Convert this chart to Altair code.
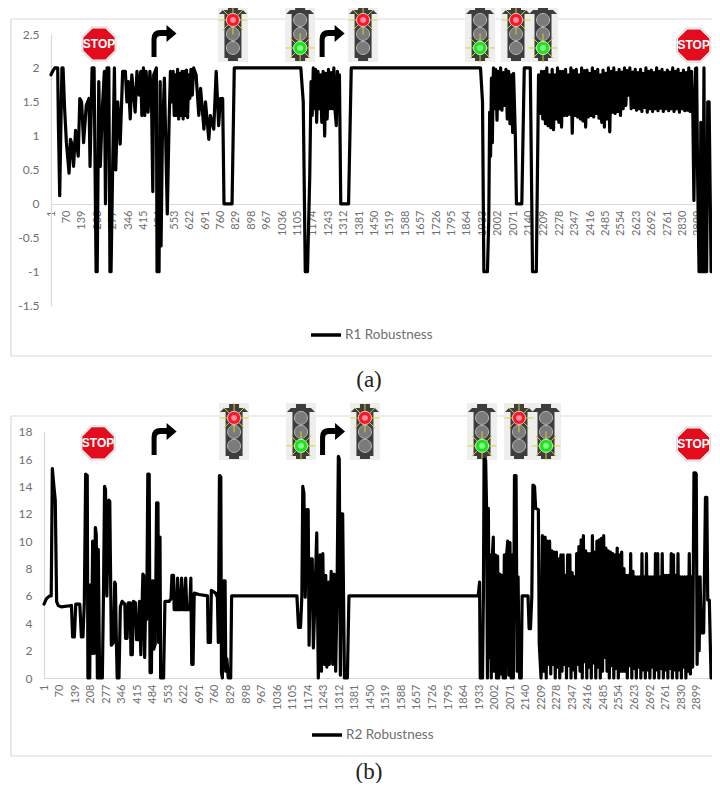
import math
import altair as alt
import pandas as pd

# ---- tick labels -----------------------------------------------------------
x_ticks = list(range(1, 2900, 69))
r1_y_ticks = [-1.5, -1, -0.5, 0, 0.5, 1, 1.5, 2, 2.5]
r2_y_ticks = [0, 2, 4, 6, 8, 10, 12, 14, 16, 18]

# ---- R1 Robustness (sample index, value) -------------------------------------
r1_start = [
    (1,1.9),(8,1.95),(18,2),(31,2),(34,1.2),(40,0.12),(44,0.9),(50,2),(55,2),(62,1.4),(70,0.9),(82,0.45),
    (88,0.95),(93,0.9),(102,0.55),(111,1.08),(123,0.7),(130,1.55),(138,1.5),(147,0.9),(159,1.45),(171,1.55),
    (176,0.55),(185,2),(194,2),(203,-1),(208,-1),(215,1.8),(222,0.55),(231,1.4),(240,1.95),(245,0),(252,2),
    (260,2),(265,-1),(270,-1),(278,0.7),(285,2),(291,0.5),(300,1.5),(311,0.88),(322,1.95),(334,1.95),
    (341,1.5),(348,1.8),(356,1.25),(363,1.9),(378,1.35),(386,1.95),(396,1.6),(403,1.95),(408,1.3),(415,2),
    (421,1.3),(427,1.95),(436,1.35),(444,1.95),(451,1.6),(457,0.18),(461,1.9),(473,2),(476,-1),(485,-1),
    (490,1.8),(494,-0.62),(500,1),(509,1.85),(522,-0.15),(530,1.2),(536,1.95),(542,1.5),(548,1.95),
    (553,1.3),(558,1.9),(563,1.3),(568,1.98),(573,1.25),(578,1.92),(583,1.3),(588,1.95),(593,1.25),
    (598,1.95),(603,1.3),(608,1.97),(613,1.27),(618,1.9),(623,1.55),(628,1.98),(634,1.6),(640,2),(651,1.9),
    (656,1.65),(663,1.3),(671,1.7),(686,1.1),(693,1.5),(708,0.95),(715,1.3),(730,1.1),(741,1.95),(752,1.15),
    (760,1.55),(770,1.55),(776,0),(812,0),(822,2),(1120,2),(1131,1.5),(1140,-1),(1150,-1),(1160,0.4),
]
r1_middle = [
    (1166,1.8),(1171,1.3),(1176,2),(1181,1.4),(1186,1.98),(1191,1.2),(1197,1.95),(1203,1.4),(1208,1.9),
    (1214,1.2),(1220,1.95),(1227,1),(1232,1.92),(1238,1.25),(1244,1.98),(1250,1.4),(1256,1.93),(1262,1.4),
    (1268,2),(1274,1.35),(1279,1.15),(1284,1.95),(1289,1.4),(1293,1.9),(1299,0),(1334,0),(1346,2),(1925,2),
    (1934,1.5),(1940,-1),(1956,-1),(1962,-0.25),(1966,1.35),(1970,0.7),(1974,1.85),(1978,0.9),(1983,2),
    (1988,1.4),(1993,1.98),(1999,1.23),(2004,1.95),(2010,1.4),(2015,2),(2021,1.38),(2027,1.93),(2033,1.45),
    (2039,1.98),(2045,1.25),(2051,1.95),(2057,1.18),(2063,1.9),(2069,1.05),(2073,1.92),(2081,1),(2086,0),
    (2110,0),(2121,2),(2148,2),(2158,-1),(2175,-1),(2182,1),
]
r1_dense = [
    (2185,1.9),(2192,1.33),(2198,1.95),(2204,1.25),(2210,1.95),(2216,1.18),(2222,2),(2228,1.15),(2234,1.9),
    (2240,1.12),(2246,1.98),(2252,1.09),(2258,1.9),(2264,1.25),(2270,2),(2276,1.2),(2282,1.95),(2288,1.13),
    (2294,1.95),(2300,1.3),(2306,1.98),(2312,1.3),(2318,1.9),(2324,1.32),(2330,2),(2336,1.04),(2342,1.96),
    (2348,1.3),(2354,1.98),(2360,1.28),(2366,1.9),(2372,1.25),(2378,2),(2384,1.22),(2390,1.96),(2396,1.13),
    (2402,1.97),(2408,1.28),(2414,1.92),(2420,1.3),(2426,2),(2432,1.28),(2438,1.95),(2444,1.33),(2450,1.98),
    (2456,1.26),(2462,1.9),(2468,1.2),(2474,1.97),(2480,1.13),(2486,1.92),(2492,1.25),(2498,2),(2504,1.06),
    (2510,1.95),(2516,1.35),(2522,2),(2528,1.33),(2534,1.93),(2540,1.36),(2546,1.98),(2552,1.3),(2558,1.94),
    (2564,1.4),(2570,2),(2576,1.45),(2582,1.96),(2588,1.6),(2594,2),(2600,1.4),(2606,1.94),(2612,1.42),
    (2618,1.98),(2624,1.38),(2630,1.93),(2636,1.4),(2642,1.98),(2648,1.36),(2654,1.92),(2660,1.42),(2666,2),
    (2672,1.35),(2678,1.95),(2684,1.4),(2690,1.97),(2696,1.36),(2702,1.93),(2708,1.4),(2714,2),(2720,1.37),
    (2726,1.95),(2732,1.41),(2738,1.98),(2744,1.36),(2750,1.93),(2756,1.4),(2762,1.97),(2768,1.37),(2774,1.94),
    (2780,1.4),(2786,2),(2792,1.36),(2798,1.95),(2804,1.4),(2810,1.98),(2816,1.35),(2822,1.92),(2828,1.4),
    (2834,1.97),(2840,1.37),(2846,1.93),(2852,1.38),(2858,2),(2864,1.36),(2870,1.95),(2876,1.36),(2881,0.05),
    (2888,1.99),(2893,2),(2898,0.3),(2904,-1),(2908,-1),(2912,1.2),(2917,-1),(2921,-1),(2926,2),(2930,-1),
    (2938,-1),(2943,1.5),(2949,1.5),(2958,-1),
]

# ---- R2 Robustness (sample index, value) -------------------------------------
r2_start = [
    (1,5.4),(12,5.8),(26,6),(33,6),(38,15.3),(45,14),(51,13),(57,5.6),(64,5.3),(78,5.2),(123,5.3),(128,3),
    (136,3),(142,5.4),(160,5.4),(167,3),(174,3),(180,5.5),(186,14.9),(193,14.8),(196,0),(204,0),(207,6.8),
    (212,1.8),(217,10),(223,1.8),(229,11),(233,10.5),(238,0),(242,9.4),(248,0),(260,0),(265,6),(270,14),
    (274,13.8),(280,6),(289,13),(293,12.9),(300,2.4),(310,2.6),(315,7),(318,6.9),(322,3),(326,0),(334,0),
    (340,5.2),(348,5.6),(360,5.4),(363,2.9),(370,2.9),(375,5.5),(384,5.5),(387,1.7),(393,1.7),(398,5.6),
    (407,5.5),(412,2.8),(419,2.8),(425,5.6),(431,1.7),(440,7.6),(444,7.5),(448,1.5),(453,6.1),(457,4.3),
    (462,14.9),(468,14.9),(472,0.4),(478,0.4),(481,7.1),(485,7.1),(488,2.1),(495,2.5),(501,12.8),(507,12.8),
    (510,2.6),(516,10.3),(519,0),(532,0),(538,5.6),(557,5.6),(565,5.8),(569,7.5),(576,7.5),(579,5),(589,5),
    (594,7.3),(599,5),(607,5),(612,7.3),(618,5),(625,5),(630,7.3),(635,5),(648,5),(653,7.3),(657,1),(663,1),
    (668,6.2),(690,6.1),(727,6),(730,2.6),(740,2.6),(744,6.4),(763,6.2),(771,5.9),(775,2.6),(780,14.8),
    (786,14.7),(789,0.4),(793,0),(799,7.1),(805,7.1),(808,0.5),(813,1.4),(819,0),(830,0),(834,6),(1124,6),
    (1131,3.7),(1140,3.7),(1146,6),(1150,14),(1155,13.5),(1161,5.9),(1168,12.3),(1174,12.3),(1178,2.4),
    (1184,8.7),(1192,8.7),(1197,2.2),(1202,4.7),(1212,10.6),(1219,0),(1227,9),(1233,0.5),(1239,9.1),(1246,1),
    (1252,7.5),(1257,0.8),(1264,7),(1268,1),(1276,7.8),(1283,1),(1289,7.6),(1296,0.5),(1302,6),(1308,16.2),
    (1312,16),(1317,0.2),(1323,12),(1327,12),(1335,0),(1348,0),(1355,6),(1929,6),(1935,7),(1938,0),(1948,0),
]
r2_middle = [
    (1952,6),(1955,16),(1962,15.9),(1966,12.5),(1970,0),(1974,12.4),(1978,1.5),(1982,9),(1987,0),(1992,9),
    (1996,10.3),(2000,0.5),(2005,9),(2010,0),(2015,8.9),(2020,0),(2025,7.6),(2030,0.3),(2035,7.5),(2040,0),
    (2045,9),(2050,0),(2055,9),(2060,10),(2065,0.2),(2070,9.9),(2075,0),(2080,9),(2085,0),(2090,14.8),
    (2097,14.8),(2102,0.5),(2106,7.4),(2110,1.6),(2113,0),(2116,1.5),(2120,0),(2124,6),(2150,6),(2155,3.6),
    (2161,3.6),(2167,6),(2172,14.1),(2179,14),(2184,12.4),(2196,12.3),(2200,2.5),
]
r2_dense = [
    (2208,0),(2214,10.4),(2220,0.5),(2226,10.3),(2231,0),(2236,10),(2241,1),(2246,10),(2251,0.3),(2256,9.3),
    (2261,1),(2266,9.2),(2271,0),(2276,9.2),(2281,0.8),(2286,8.7),(2291,0),(2296,9),(2301,0.5),(2306,9),
    (2311,1),(2316,7.5),(2321,0),(2326,9),(2331,0.9),(2336,9),(2341,0),(2346,7.7),(2351,0.6),(2356,7.4),
    (2361,0),(2366,9.1),(2371,1),(2376,9.6),(2381,0.5),(2386,10.1),(2391,0),(2396,10.4),(2401,1.2),(2406,9.3),
    (2411,0),(2416,9.1),(2421,0.8),(2426,9.1),(2431,0),(2436,10.4),(2441,1.1),(2446,9.2),(2451,0),(2456,10),
    (2461,0.8),(2466,10.1),(2471,0),(2476,10.2),(2481,0.5),(2486,10.4),(2491,1.5),(2496,9.5),(2501,0.5),
    (2506,9.3),(2511,0),(2516,9.2),(2521,0.9),(2526,9.1),(2531,0),(2536,9),(2541,0.7),(2546,9.5),(2551,0),
    (2556,9),(2561,0.5),(2566,9.2),(2571,0.5),(2576,8),(2581,0.5),(2586,7.5),(2591,0),(2596,7.5),(2601,0.9),
    (2606,9.1),(2611,0),(2616,7.8),(2621,0.7),(2626,7.4),(2631,0),(2636,7.4),(2641,0.8),(2646,7.4),(2651,0),
    (2656,9.1),(2661,0.6),(2666,7.4),(2671,0),(2676,9.1),(2681,0.6),(2686,7.4),(2691,0),(2696,7.4),(2701,0.8),
    (2706,7.4),(2711,0),(2716,9.1),(2721,0.6),(2726,9.1),(2731,0),(2736,7.4),(2741,0.7),(2746,9.1),(2751,0),
    (2756,7.5),(2761,0.6),(2766,7.5),(2771,0),(2776,7.5),(2781,0.7),(2786,9.1),(2791,0),(2796,9),(2801,0.6),
    (2806,7.5),(2811,0),(2816,9.1),(2821,0.6),(2826,7.4),(2831,0),(2836,7.4),(2841,0.8),(2846,7.4),(2851,0),
    (2856,7.4),(2861,0.5),(2866,9.1),(2871,0.3),(2876,7.4),(2881,0.8),(2887,15),(2893,15),(2897,14.9),(2901,1),
    (2905,7.4),(2910,2),(2914,7.4),(2919,3.3),(2930,3.3),(2938,13.2),(2944,13.2),(2948,5.7),(2955,5.7),(2963,0),
]

# ---- pictograms: where they sit along each chart (sample index, axis value) --
r1_stops = [(216, 2.353), (2880, 2.338)]
r1_turns = [(505, 2.397), (1258, 2.397)]
r1_reds = [(816, 2.515), (1399, 2.515), (2084, 2.515)]
r1_greens = [(1117, 2.515), (1923, 2.515), (2205, 2.515)]
r2_stops = [(241, 17.18), (2885, 17.1)]
r2_turns = [(532, 17.47), (1280, 17.47)]
r2_reds = [(845, 18.06), (1426, 18.06), (2110, 18.06)]
r2_greens = [(1142, 18.06), (1946, 18.06), (2230, 18.06)]

GREY = "#d9d9d9"
TEXT = "#6f6f6f"
FONT = "Lato"
S = 10.0          # pixels per unit of a custom symbol path
SIZE = (2 * S) ** 2
W = 704
H = 775


def poly(points):
    return "M" + " L".join(f"{x / S:.3f},{y / S:.3f}" for x, y in points) + " Z"


def rect(x0, y0, x1, y1):
    return poly([(x0, y0), (x1, y0), (x1, y1), (x0, y1)])


def circle(cx, cy, r):
    return poly([(cx + r * math.cos(k * math.pi / 16), cy + r * math.sin(k * math.pi / 16)) for k in range(32)])


def octagon(h):
    a = h * 0.414
    return poly([(-a, -h), (a, -h), (h, -a), (h, a), (a, h), (-a, h), (-h, a), (-h, -a)])


def rays(cy):
    parts = []
    for k in range(8):
        c, s = math.cos(k * math.pi / 4), math.sin(k * math.pi / 4)
        parts.append(f"M{(7 * c) / S:.3f},{(cy + 7 * s) / S:.3f} L{(14.5 * c) / S:.3f},{(cy + 14.5 * s) / S:.3f}")
    return " ".join(parts)


ARROW = ("M-1.2,1.6 L-1.2,-0.2 Q-1.2,-1.1 -0.3,-1.1 L0.3,-1.1 L0.3,-1.6 L1.3,-0.75 "
         "L0.3,0.1 L0.3,-0.5 L-0.3,-0.5 Q-0.7,-0.5 -0.7,-0.1 L-0.7,1.6 Z")
HOUSING = " ".join([rect(-5, -27, 5, -23), poly([(-14, -19), (-10, -23), (10, -23), (14, -19)]),
                    rect(-8.5, -19, 8.5, 25), rect(-5, 25, 5, 28)])
LENS_Y = [-13, 1, 15]


def panel(series, label, points, stops, turns, reds, greens, x_scale, y_scale, y_ticks, y_off, x_off,
          legend_xy, caption_y, frame_top, frame_bottom):
    df = pd.DataFrame(points, columns=["i", "v"])
    df["series"] = series
    x_axis = alt.Axis(values=x_ticks, title=None, orient="bottom", offset=x_off, labelAngle=270, labelAlign="right",
                      labelBaseline="middle", labelOverlap=False, labelFont=FONT, labelFontSize=11, labelColor=TEXT,
                      labelPadding=6, ticks=False, grid=False, domainColor=GREY, domainWidth=1.2,
                      labelExpr="datum.value + ''")
    y_axis = alt.Axis(values=y_ticks, title=None, orient="left", offset=y_off, labelFont=FONT, labelFontSize=12,
                      labelColor=TEXT, labelPadding=12, ticks=False, grid=False, domainColor=GREY, domainWidth=1.2,
                      labelExpr="datum.value + ''", labelOverlap=False)
    X = alt.X("i:Q", scale=x_scale, axis=x_axis)
    Y = alt.Y("v:Q", scale=y_scale, axis=y_axis)

    one = alt.Data(values=[{"k": 1}])
    left = 3
    frame = [
        alt.Chart(one).mark_rule(color=GREY, strokeWidth=1.2).encode(x=alt.value(left), y=alt.value(frame_top), y2=alt.value(frame_bottom)),
        alt.Chart(one).mark_rule(color=GREY, strokeWidth=1.2).encode(x=alt.value(left), x2=alt.value(W), y=alt.value(frame_top)),
        alt.Chart(one).mark_rule(color=GREY, strokeWidth=1.2).encode(x=alt.value(left), x2=alt.value(W), y=alt.value(frame_bottom)),
    ]

    def shape(pts, path, fill=None, stroke=None, sw=0):
        d = pd.DataFrame(pts, columns=["i", "v"])
        kw = dict(shape=path, size=SIZE, opacity=1)
        if fill:
            kw.update(filled=True, fill=fill)
        else:
            kw.update(filled=False, fill="transparent")
        if stroke:
            kw.update(stroke=stroke, strokeWidth=sw)
        else:
            kw.update(strokeWidth=0)
        return alt.Chart(d).mark_point(**kw).encode(x=X, y=Y)

    lights = reds + greens
    icons = [
        shape(lights, rect(-15, -28, 15, 29), fill="#eeeeee"),
        shape(lights, HOUSING, fill="#3d3d3d"),
    ]
    for ly in LENS_Y:
        icons.append(shape(lights, circle(0, ly, 6.5), fill="#7b7b7b", stroke="#b8b8b8", sw=1))
    icons += [
        shape(reds, rays(-13), stroke="#d9d41c", sw=1),
        shape(reds, circle(0, -13, 6.5), fill="#ff1526", stroke="#e9c0c0", sw=1),
        shape(reds, circle(0, -13, 3), fill="#ff8f98"),
        shape(greens, rays(15), stroke="#d9d41c", sw=1),
        shape(greens, circle(0, 15, 6.5), fill="#19e619", stroke="#c0e9c0", sw=1),
        shape(greens, circle(0, 15, 3), fill="#8cff8c"),
        shape(stops, octagon(17.5), fill="#d4d4d4"),
        shape(stops, octagon(16.6), fill="#ffffff"),
        shape(stops, octagon(15.6), fill="#e30c1c"),
        shape(turns, ARROW, fill="#000000"),
    ]
    stop_text = alt.Chart(pd.DataFrame(stops, columns=["i", "v"]).assign(t="STOP")).mark_text(
        font="Liberation Sans", fontWeight="bold", fontSize=12, color="#ffffff", baseline="middle"
    ).encode(x=X, y=Y, text="t:N")

    line = alt.Chart(df).mark_line(strokeWidth=3.2, strokeJoin="round", strokeCap="round").encode(
        x=X, y=Y,
        color=alt.Color("series:N", scale=alt.Scale(domain=[series], range=["#000000"]),
                        legend=alt.Legend(orient="none", legendX=legend_xy[0], legendY=legend_xy[1], title=None,
                                          symbolType="stroke", symbolSize=900, symbolStrokeWidth=3.5,
                                          labelFont=FONT, labelFontSize=13.5, labelColor=TEXT, labelOffset=2)),
    )
    cap = alt.Chart(alt.Data(values=[{"t": label}])).mark_text(
        font="Liberation Serif", fontSize=23, color="#222222", baseline="middle"
    ).encode(x=alt.value(361), y=alt.value(caption_y), text="t:N")
    return alt.layer(*frame, *icons, stop_text, line, cap)


r1_panel = panel(
    "R1 Robustness", "(a)", r1_start + r1_middle + r1_dense, r1_stops, r1_turns, r1_reds, r1_greens,
    alt.Scale(domain=[1, 2962], range=[43, W], nice=False, zero=False),
    alt.Scale(domain=[-1.5, 2.5], range=[297.7, 26], nice=False, zero=False),
    r1_y_ticks, -43, -(H - 196), (301, 310), 372, 11, 348,
)
r2_panel = panel(
    "R2 Robustness", "(b)", r2_start + r2_middle + r2_dense, r2_stops, r2_turns, r2_reds, r2_greens,
    alt.Scale(domain=[1, 2967], range=[36, W], nice=False, zero=False),
    alt.Scale(domain=[0, 18], range=[670, 423.7], nice=False, zero=False),
    r2_y_ticks, -36, -(H - 670), (302, 710), 764, 408, 748,
)

chart = alt.layer(r1_panel, r2_panel).resolve_scale(
    color="independent", x="independent", y="independent"
).properties(width=W, height=H, autosize=alt.AutoSizeParams(type="none"), padding=0).configure_view(stroke=None)

chart.save("out.html", embed_options={"renderer": "svg", "actions": False})
